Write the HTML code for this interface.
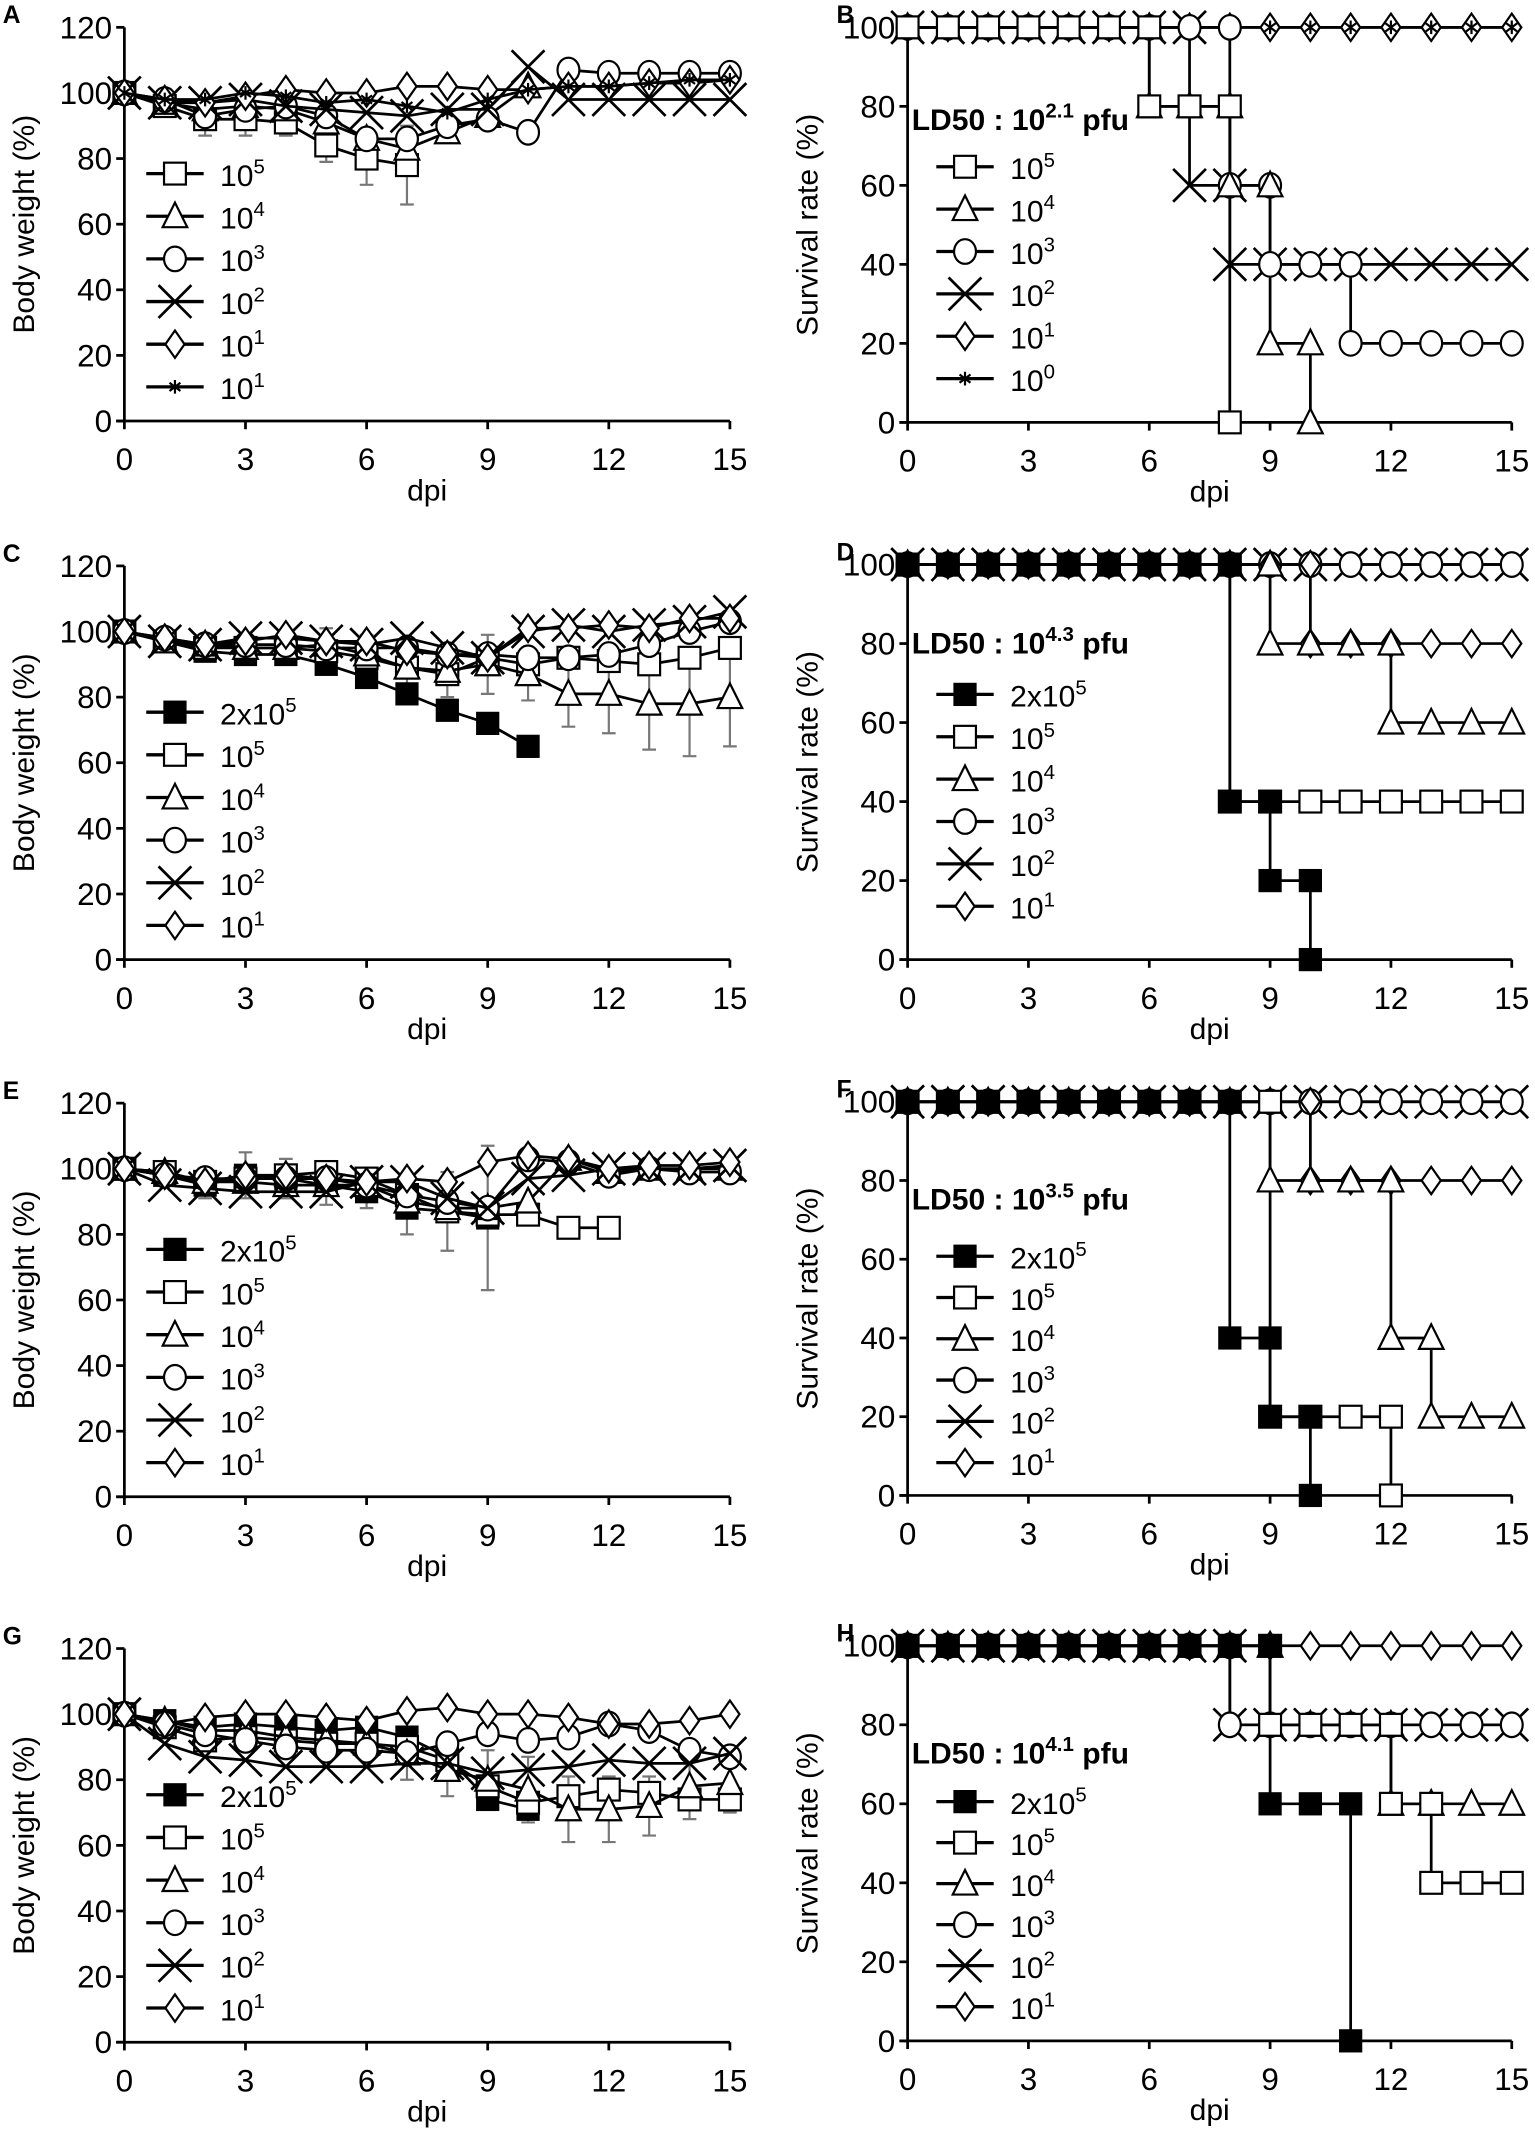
<!DOCTYPE html>
<html><head><meta charset="utf-8"><style>
html,body{margin:0;padding:0;background:#fff}
svg{display:block}
text{font-family:"Liberation Sans",sans-serif;fill:#000}
</style></head><body>
<svg id="fig" width="1535" height="2142" viewBox="0 0 1123 1567" preserveAspectRatio="none" xmlns="http://www.w3.org/2000/svg"></svg>
<script>
// ---------- data ----------
const days = [0,1,2,3,4,5,6,7,8,9,10,11,12,13,14,15];
const bwTicks = [0,20,40,60,80,100,120];
const svTicks = [0,20,40,60,80,100];
const xTicks = [0,3,6,9,12,15];

// Panel A body weight
const A_sq  = [100,96,92,92,91,84,80,78];
const A_tri = [100,97,95,96,95,91,86,83,88,93,102];
const A_cir = [100,98,93,95,96,93,86,86,90,92,88,107,106,106,106,106];
const A_x   = [100,97,97,98,96,95,94,93,95,95,108,98,98,98,98,98];
const A_dia = [100,98,97,99,101,100,100,102,102,101,101,102,102,103,103,104];
const A_star= [100,98,98,100,99,97,98,96,94,98,101,102,102,103,104,104];
const A_err = [0,2,5,5,4,5,8,12,12,10,6,6,6,6,5,4];
// Panel B survival
const B_sq  = [100,100,100,100,100,100,80,80,0];
const B_tri = [100,100,100,100,100,100,80,80,60,20,0];
const B_cir = [100,100,100,100,100,100,100,100,60,40,40,20,20,20,20,20];
const B_x   = [100,100,100,100,100,100,100,60,40,40,40,40,40,40,40,40];
const B_dia = [100,100,100,100,100,100,100,100,100,100,100,100,100,100,100,100];
const B_star= [100,100,100,100,100,100,100,100,100,100,100,100,100,100,100,100];
// Panel C
const C_fsq = [100,97,94,93,93,90,86,81,76,72,65];
const C_sq  = [100,97,95,95,95,94,92,89,87,92,90,92,91,90,92,95];
const C_tri = [100,97,96,95,95,96,93,89,88,90,87,81,81,78,78,80];
const C_cir = [100,98,96,96,96,95,95,95,93,93,92,92,93,96,100,103];
const C_x   = [100,97,96,98,98,97,96,98,95,92,100,102,100,102,103,106];
const C_dia = [100,98,96,97,99,97,97,94,93,92,101,101,102,101,104,104];
const C_err = [0,3,3,4,5,5,6,7,8,9,8,10,12,14,16,15];
// Panel D
const D_fsq = [100,100,100,100,100,100,100,100,40,20,0];
const D_sq  = [100,100,100,100,100,100,100,100,40,40,40,40,40,40,40,40];
const D_tri = [100,100,100,100,100,100,100,100,100,80,80,80,60,60,60,60];
const D_cir = [100,100,100,100,100,100,100,100,100,100,100,100,100,100,100,100];
const D_x   = [100,100,100,100,100,100,100,100,100,100,100,100,100,100,100,100];
const D_dia = [100,100,100,100,100,100,100,100,100,100,80,80,80,80,80,80];
// Panel E
const E_fsq = [100,98,95,98,97,95,93,88,87,85];
const E_sq  = [100,99,96,97,98,99,97,92,87,86,86,82,82];
const E_tri = [100,99,96,96,95,95,95,90,88,88,90,103,99,100,100,100];
const E_cir = [100,98,97,97,97,97,95,92,90,88,103,102,98,100,99,99];
const E_x   = [100,95,94,93,93,93,96,96,91,88,97,98,100,100,100,101];
const E_dia = [100,98,96,98,98,97,96,97,96,102,104,103,100,101,101,102];
const E_err = [0,3,4,7,6,6,5,8,12,22,10,6,8,6,5,5];
// Panel F
const F_fsq = [100,100,100,100,100,100,100,100,40,20,0];
const F_sq  = [100,100,100,100,100,100,100,100,100,20,20,20,0];
const F_tri = [100,100,100,100,100,100,100,100,100,80,80,80,40,20,20,20];
const F_cir = [100,100,100,100,100,100,100,100,100,100,100,100,100,100,100,100];
const F_x   = [100,100,100,100,100,100,100,100,100,100,100,100,100,100,100,100];
const F_dia = [100,100,100,100,100,100,100,100,100,100,80,80,80,80,80,80];
// Panel G
const G_fsq = [100,98,96,97,96,95,96,93,87,74,71];
const G_sq  = [100,96,92,93,92,91,91,90,86,78,73,75,77,76,74,74];
const G_tri = [100,98,95,95,93,92,91,88,83,80,77,71,71,72,78,79];
const G_cir = [100,97,94,92,90,89,89,88,91,94,92,93,97,95,89,87];
const G_x   = [100,91,87,86,84,84,84,85,85,82,83,84,86,85,85,88];
const G_dia = [100,97,99,100,100,99,98,101,102,100,100,99,97,97,98,100];
const G_err = [0,3,4,5,6,6,7,8,8,9,10,10,10,9,10,9];
// Panel H
const H_fsq = [100,100,100,100,100,100,100,100,100,60,60,0];
const H_sq  = [100,100,100,100,100,100,100,100,100,80,80,80,60,40,40,40];
const H_tri = [100,100,100,100,100,100,100,100,100,80,80,80,60,60,60,60];
const H_cir = [100,100,100,100,100,100,100,100,80,80,80,80,80,80,80,80];
const H_x   = [100,100,100,100,100,100,100,100,80,80,80,80,80,80,80,80];
const H_dia = [100,100,100,100,100,100,100,100,100,100,100,100,100,100,100,100];

const labA = ["10^5","10^4","10^3","10^2","10^1","10^1"];
const labB = ["10^5","10^4","10^3","10^2","10^1","10^0"];
const labC = ["2x10^5","10^5","10^4","10^3","10^2","10^1"];
const ldB = "2.1", ldD = "4.3", ldF = "3.5", ldH = "4.1";

// ---------- drawing ----------
const NS = "http://www.w3.org/2000/svg";
const svg = document.getElementById('fig');
function el(tag, attrs, parent){const e=document.createElementNS(NS,tag);for(const k in attrs)e.setAttribute(k,attrs[k]);(parent||svg).appendChild(e);return e;}

function marker(g, type, x, y){
  const s=8; let m;
  const st={stroke:'#000','stroke-width':1.6,fill:'#fff'};
  if(type==='fsq'){m=el('rect',{x:x-s,y:y-s,width:2*s,height:2*s,fill:'#000',stroke:'#000'},g);}
  else if(type==='sq'){m=el('rect',Object.assign({x:x-s,y:y-s,width:2*s,height:2*s},st),g);}
  else if(type==='tri'){m=el('polygon',Object.assign({points:`${x},${y-s-2} ${x-s-1},${y+s} ${x+s+1},${y+s}`},st),g);}
  else if(type==='cir'){m=el('ellipse',Object.assign({cx:x,cy:y,rx:s,ry:s+1},st),g);}
  else if(type==='x'){m=el('path',{d:`M${x-s-4},${y-s-4}L${x+s+4},${y+s+4}M${x-s-4},${y+s+4}L${x+s+4},${y-s-4}`,stroke:'#000','stroke-width':2,fill:'none'},g);}
  else if(type==='dia'){m=el('polygon',Object.assign({points:`${x},${y-s-2} ${x+s-1},${y} ${x},${y+s+2} ${x-s+1},${y}`},st),g);}
  else if(type==='star'){m=el('path',{d:`M${x},${y-5}L${x},${y+5}M${x-4},${y-3}L${x+4},${y+3}M${x-4},${y+3}L${x+4},${y-3}`,stroke:'#000','stroke-width':1.6},g);}
  
  
  return m;
}
function lab(g, txt, x, y, size){
  const t=el('text',{x:x,y:y,'font-size':size},g);
  const parts=txt.split('^');
  t.appendChild(document.createTextNode(parts[0]));
  if(parts[1]){const ts=el('tspan',{dy:-9,'font-size':size*0.68},t);ts.textContent=parts[1];}
  return t;
}
function legend(g, labels, types, lx, y0, sp){
  labels.forEach((tx,k)=>{const y=y0+k*sp;
    el('line',{x1:lx,y1:y,x2:lx+42,y2:y,stroke:'#000','stroke-width':2.4},g);
    marker(g,types[k],lx+21,y);
    const tt=lab(g,tx,lx+54,y+9,22);
    
    });
}

function axes(id, x0, x1, yTop, yBot, ymax, ticks, ytitle, letter, lx){
  const g=el('g',{});
  
  
  const X=d=>x0+(x1-x0)*d/15, Y=v=>yBot-(yBot-yTop)*v/ymax;
  el('line',{x1:x0,y1:yTop,x2:x0,y2:yBot+1,stroke:'#000','stroke-width':2},g);
  el('line',{x1:x0-6,y1:yBot,x2:x1,y2:yBot,stroke:'#000','stroke-width':2},g);
  ticks.forEach(v=>{el('line',{x1:x0-6,y1:Y(v),x2:x0,y2:Y(v),stroke:'#000','stroke-width':2},g);
    const t=el('text',{x:x0-9,y:Y(v)+8,'font-size':23,'text-anchor':'end'},g);t.textContent=v;
    
    });
  xTicks.forEach(d=>{el('line',{x1:X(d),y1:yBot,x2:X(d),y2:yBot+6,stroke:'#000','stroke-width':2},g);
    const t=el('text',{x:X(d),y:yBot+36,'font-size':23,'text-anchor':'middle'},g);t.textContent=d;
    
    });
  const xt=el('text',{x:(x0+x1)/2,y:yBot+58,'font-size':22,'text-anchor':'middle'},g);xt.textContent='dpi';
  
  
  const yt=el('text',{x:0,y:0,'font-size':22,'text-anchor':'middle',transform:`translate(${x0-66},${(yTop+yBot)/2}) rotate(-90)`},g);yt.textContent=ytitle;
  
  
  const L=el('text',{x:lx,y:yTop-3,'font-size':18,'font-weight':'bold'},g);L.textContent=letter;
  
  
  return {g,X,Y};
}

function bwPanel(id,yTop,series,types,labels,err,errIdx,letter){
  const yBot=yTop+288;
  const {g,X,Y}=axes(id,91,534,yTop,yBot,120,bwTicks,'Body weight (%)',letter,2);
  const s=series[errIdx];
  s.forEach((v,i)=>{ if(!err[i])return;
    el('path',{d:`M${X(i)},${Y(v-err[i])}L${X(i)},${Y(v+err[i])}M${X(i)-5},${Y(v+err[i])}L${X(i)+5},${Y(v+err[i])}M${X(i)-5},${Y(v-err[i])}L${X(i)+5},${Y(v-err[i])}`,stroke:'#777','stroke-width':1.6,fill:'none'},g);});
  series.forEach((s,k)=>{
    const line=el('polyline',{points:s.map((v,i)=>X(i)+','+Y(v)).join(' '),fill:'none',stroke:'#000','stroke-width':2},g);
    
    
    s.forEach((v,i)=>marker(g,types[k],X(i),Y(v)));
  });
  legend(g,labels,types,107,yTop+107,31.2);
}

function svPanel(id,yTop,yBot,series,types,labels,ltypes,ld,ly0,sp,ldY,letter){
  const {g,X,Y}=axes(id,664,1106,yTop,yBot,100,svTicks,'Survival rate (%)',letter,612);
  series.forEach((s,k)=>{
    let d=`M${X(0)},${Y(s[0])}`;
    for(let i=1;i<s.length;i++){ if(s[i]!==s[i-1]) d+=`L${X(i)},${Y(s[i-1])}`; d+=`L${X(i)},${Y(s[i])}`; }
    const p=el('path',{d:d,fill:'none',stroke:'#000','stroke-width':2},g);
    
    
  });
  series.forEach((s,k)=>{
    s.forEach((v,i)=>{ if(i>0&&s[i]!==s[i-1]) marker(g,types[k],X(i),Y(s[i-1])); marker(g,types[k],X(i),Y(v));});
  });
  const t=el('text',{x:667,y:ldY,'font-size':22,'font-weight':'bold'},g);
  
  
  t.appendChild(document.createTextNode('LD50 : 10'));
  const sup=el('tspan',{dy:-9,'font-size':15},t);sup.textContent=ld;
  const rest=el('tspan',{dy:9},t);rest.textContent=' pfu';
  legend(g,labels,ltypes,685,ly0,sp);
}

const T6a=['sq','tri','cir','x','dia','star'];
const T6=['fsq','sq','tri','cir','x','dia'];
bwPanel('a',20,[A_sq,A_tri,A_cir,A_x,A_dia,A_star],T6a,labA,A_err,0,'A');
svPanel('b',20,309,[B_dia,B_star,B_x,B_cir,B_tri,B_sq],['dia','star','x','cir','tri','sq'],labB,T6a,ldB,122,31,95,'B');
bwPanel('c',414,[C_fsq,C_sq,C_tri,C_cir,C_x,C_dia],T6,labC,C_err,2,'C');
svPanel('d',413,702,[D_x,D_cir,D_dia,D_tri,D_sq,D_fsq],['x','cir','dia','tri','sq','fsq'],labC,T6,ldD,508,31,478,'D');
bwPanel('e',807,[E_fsq,E_sq,E_tri,E_cir,E_x,E_dia],T6,labC,E_err,0,'E');
svPanel('f',806,1094,[F_x,F_cir,F_dia,F_tri,F_sq,F_fsq],['x','cir','dia','tri','sq','fsq'],labC,T6,ldF,919,30.2,885,'F');
bwPanel('g',1206,[G_fsq,G_sq,G_tri,G_cir,G_x,G_dia],T6,labC,G_err,2,'G');
svPanel('h',1204,1493,[H_dia,H_x,H_cir,H_tri,H_sq,H_fsq],['dia','x','cir','tri','sq','fsq'],labC,T6,ldH,1318,30,1290,'H');
</script>
</body></html>
